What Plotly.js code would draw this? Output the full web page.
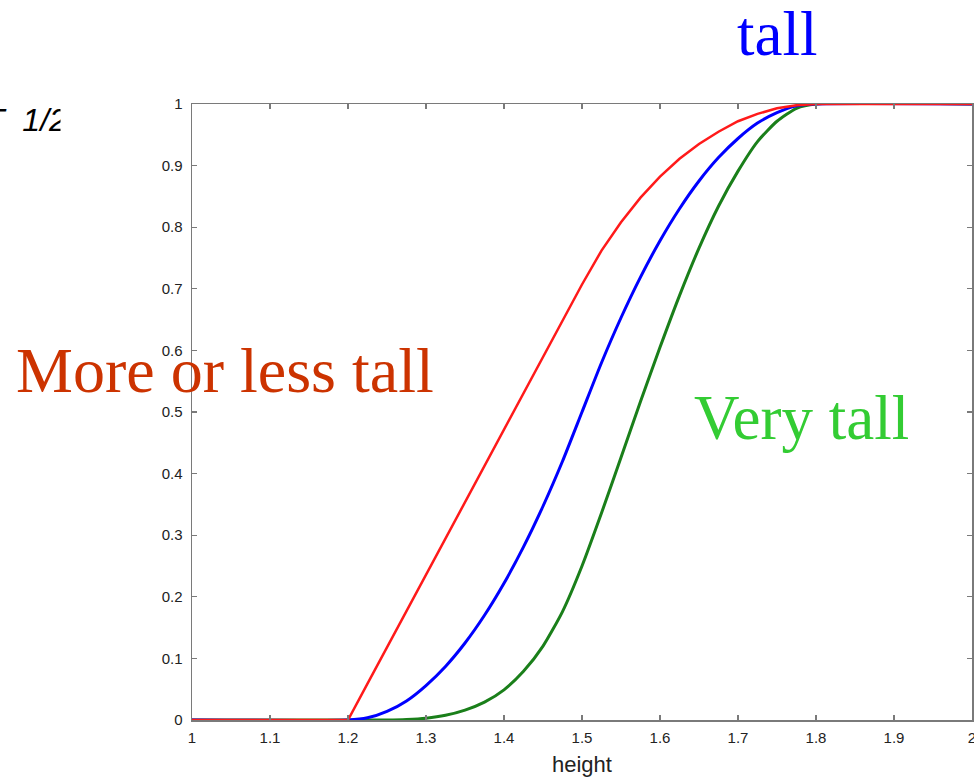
<!DOCTYPE html>
<html>
<head>
<meta charset="utf-8">
<script src="https://cdn.plot.ly/plotly-3.0.1.min.js"></script>
<style>
html,body{margin:0;padding:0;background:#fff;}
#chart{width:974px;height:780px;}
</style>
</head>
<body>
<div id="chart"></div>
<script>
const heights = [1.0, 1.2, 1.225, 1.25, 1.275, 1.3, 1.325, 1.35, 1.375, 1.4, 1.425, 1.45, 1.475, 1.5, 1.525, 1.55, 1.575, 1.6, 1.625, 1.65, 1.675, 1.7, 1.725, 1.75, 1.775, 1.8, 2.0];
const tallValues = [0, 0, 0.0035, 0.014, 0.031, 0.056, 0.087, 0.125, 0.170, 0.222, 0.281, 0.347, 0.420, 0.500, 0.580, 0.653, 0.719, 0.778, 0.830, 0.875, 0.913, 0.944, 0.969, 0.986, 0.997, 1, 1];
const moreOrLessValues = [0, 0, 0.059, 0.118, 0.177, 0.236, 0.295, 0.354, 0.412, 0.471, 0.530, 0.589, 0.648, 0.707, 0.762, 0.808, 0.848, 0.882, 0.911, 0.935, 0.955, 0.972, 0.984, 0.993, 0.998, 1, 1];
const veryTallValues = [0, 0, 0.00001, 0.0002, 0.001, 0.003, 0.0076, 0.016, 0.029, 0.049, 0.079, 0.120, 0.176, 0.250, 0.336, 0.426, 0.517, 0.605, 0.689, 0.766, 0.834, 0.891, 0.939, 0.972, 0.993, 1, 1];
const xTicks = [1, 1.1, 1.2, 1.3, 1.4, 1.5, 1.6, 1.7, 1.8, 1.9, 2];
const xTickLabels = ['1', '1.1', '1.2', '1.3', '1.4', '1.5', '1.6', '1.7', '1.8', '1.9', '2'];
const yTicks = [0, 0.1, 0.2, 0.3, 0.4, 0.5, 0.6, 0.7, 0.8, 0.9, 1];
const yTickLabels = ['0', '0.1', '0.2', '0.3', '0.4', '0.5', '0.6', '0.7', '0.8', '0.9', '1'];

const traces = [
  {x: heights, y: veryTallValues, mode: 'lines', line: {color: '#1a7f1a', width: 3, shape: 'spline', smoothing: 0.6}, name: 'Very tall'},
  {x: heights, y: tallValues, mode: 'lines', line: {color: '#0000ff', width: 3, shape: 'spline', smoothing: 0.6}, name: 'tall'},
  {x: heights, y: moreOrLessValues, mode: 'lines', line: {color: '#ff1a1a', width: 2.5}, name: 'More or less tall'}
];

const axisCommon = {
  showline: true, linecolor: '#7a7a7a', linewidth: 1.5, mirror: 'ticks',
  ticks: 'inside', ticklen: 5, tickcolor: '#7a7a7a', tickwidth: 1.2,
  showgrid: false, zeroline: false,
  ticklabeloverflow: 'allow',
  tickfont: {family: 'Liberation Sans, Arial, sans-serif', size: 15, color: '#222'}
};

const layout = {
  width: 974, height: 780,
  margin: {l: 192, r: 2, t: 104, b: 60},
  paper_bgcolor: '#fff', plot_bgcolor: '#fff',
  showlegend: false,
  xaxis: Object.assign({}, axisCommon, {
    range: [1, 2], tickvals: xTicks, ticktext: xTickLabels, ticklabelstandoff: 3,
    title: {text: 'height', font: {family: 'Liberation Sans, Arial, sans-serif', size: 22, color: '#222'}, standoff: 12}
  }),
  yaxis: Object.assign({}, axisCommon, {
    range: [0, 1], tickvals: yTicks, ticktext: yTickLabels, ticklabelstandoff: 5
  }),
  annotations: [
    {text: 'tall', xref: 'paper', yref: 'paper', x: 0.75, y: 1.114, xanchor: 'center', yanchor: 'middle', showarrow: false,
     font: {family: 'Liberation Serif, Times New Roman, serif', size: 63, color: '#0000ff'}},
    {text: 'More or less tall', xref: 'paper', yref: 'paper', x: 0.0423, y: 0.568, xanchor: 'center', yanchor: 'middle', showarrow: false,
     font: {family: 'Liberation Serif, Times New Roman, serif', size: 64, color: '#cc3300'}},
    {text: 'Very tall', xref: 'paper', yref: 'paper', x: 0.781, y: 0.49, xanchor: 'center', yanchor: 'middle', showarrow: false,
     font: {family: 'Liberation Serif, Times New Roman, serif', size: 63, color: '#33cc33'}},
    {text: '<i>T&nbsp; 1/2</i>', xref: 'paper', yref: 'paper', x: -0.2685, y: 0.974, xanchor: 'left', yanchor: 'middle', showarrow: false,
     font: {family: 'Liberation Sans, Arial, sans-serif', size: 32, color: '#000'}},
    {text: ' ', xref: 'paper', yref: 'paper', x: -0.169, y: 0.974, xanchor: 'left', yanchor: 'middle', showarrow: false,
     width: 30, height: 44, bgcolor: '#ffffff', font: {size: 10}}
  ]
};

Plotly.newPlot('chart', traces, layout, {displayModeBar: false, staticPlot: true});
</script>
</body>
</html>
